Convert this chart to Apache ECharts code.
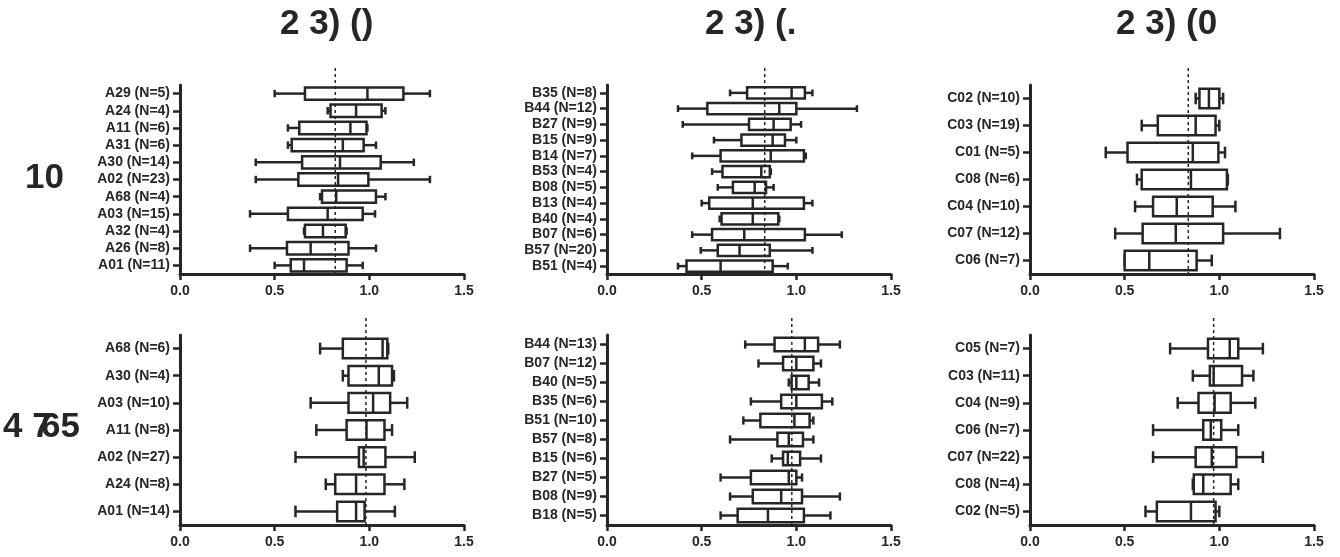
<!DOCTYPE html>
<html>
<head>
<meta charset="utf-8">
<script src="https://cdn.jsdelivr.net/npm/echarts@6/dist/echarts.min.js"></script>
<style>
  html, body { margin: 0; padding: 0; background: #fff; }
  #chart { width: 1340px; height: 557px; }
</style>
</head>
<body>
<div id="chart"></div>
<script>
// ==========================================
// DATA  (each box: [whisker low, Q1, median, Q3, whisker high])
// ==========================================
const panelTitles = ['2 3) ()', '2 3) (.', '2 3) (0'];
const rowLabels = ['10', '4 765'];
const xTicks = [0, 0.5, 1.0, 1.5];

const catsTopA = ['A29 (N=5)', 'A24 (N=4)', 'A11 (N=6)', 'A31 (N=6)', 'A30 (N=14)', 'A02 (N=23)',
  'A68 (N=4)', 'A03 (N=15)', 'A32 (N=4)', 'A26 (N=8)', 'A01 (N=11)'];
const boxTopA = [
  [0.50, 0.66, 0.99, 1.18, 1.32],
  [0.78, 0.795, 0.93, 1.065, 1.085],
  [0.57, 0.63, 0.90, 0.985, 0.99],
  [0.57, 0.59, 0.86, 0.97, 1.035],
  [0.40, 0.645, 0.845, 1.06, 1.235],
  [0.40, 0.625, 0.835, 0.995, 1.32],
  [0.74, 0.75, 0.825, 1.035, 1.085],
  [0.37, 0.57, 0.78, 0.965, 1.03],
  [0.655, 0.66, 0.755, 0.875, 0.88],
  [0.37, 0.565, 0.69, 0.89, 1.035],
  [0.50, 0.585, 0.655, 0.88, 0.965]
];

const catsTopB = ['B35 (N=8)', 'B44 (N=12)', 'B27 (N=9)', 'B15 (N=9)', 'B14 (N=7)', 'B53 (N=4)',
  'B08 (N=5)', 'B13 (N=4)', 'B40 (N=4)', 'B07 (N=6)', 'B57 (N=20)', 'B51 (N=4)'];
const boxTopB = [
  [0.65, 0.74, 0.975, 1.045, 1.085],
  [0.375, 0.53, 0.91, 1.0, 1.32],
  [0.40, 0.75, 0.88, 0.97, 1.025],
  [0.565, 0.71, 0.875, 0.94, 1.0],
  [0.45, 0.60, 0.865, 1.04, 1.05],
  [0.555, 0.61, 0.815, 0.86, 0.865],
  [0.585, 0.665, 0.78, 0.84, 0.88],
  [0.50, 0.54, 0.77, 1.04, 1.085],
  [0.595, 0.605, 0.77, 0.905, 0.91],
  [0.45, 0.555, 0.725, 1.045, 1.24],
  [0.495, 0.585, 0.70, 0.86, 1.085],
  [0.375, 0.42, 0.60, 0.875, 0.955]
];

const catsTopC = ['C02 (N=10)', 'C03 (N=19)', 'C01 (N=5)', 'C08 (N=6)', 'C04 (N=10)', 'C07 (N=12)', 'C06 (N=7)'];
const boxTopC = [
  [0.875, 0.895, 0.945, 1.0, 1.02],
  [0.59, 0.675, 0.875, 0.98, 1.0],
  [0.40, 0.515, 0.86, 0.995, 1.03],
  [0.565, 0.59, 0.85, 1.04, 1.045],
  [0.555, 0.65, 0.775, 0.965, 1.085],
  [0.45, 0.595, 0.77, 1.02, 1.32],
  [0.50, 0.50, 0.63, 0.88, 0.96]
];

const catsBotA = ['A68 (N=6)', 'A30 (N=4)', 'A03 (N=10)', 'A11 (N=8)', 'A02 (N=27)', 'A24 (N=8)', 'A01 (N=14)'];
const boxBotA = [
  [0.74, 0.86, 1.07, 1.095, 1.10],
  [0.86, 0.89, 1.05, 1.12, 1.13],
  [0.69, 0.89, 1.02, 1.11, 1.20],
  [0.72, 0.88, 0.985, 1.08, 1.12],
  [0.61, 0.945, 0.97, 1.085, 1.24],
  [0.77, 0.82, 0.93, 1.08, 1.185],
  [0.61, 0.83, 0.93, 0.975, 1.135]
];

const catsBotB = ['B44 (N=13)', 'B07 (N=12)', 'B40 (N=5)', 'B35 (N=6)', 'B51 (N=10)', 'B57 (N=8)',
  'B15 (N=6)', 'B27 (N=5)', 'B08 (N=9)', 'B18 (N=5)'];
const boxBotB = [
  [0.73, 0.885, 1.045, 1.115, 1.23],
  [0.80, 0.93, 1.0, 1.09, 1.13],
  [0.96, 0.975, 1.0, 1.065, 1.12],
  [0.76, 0.92, 1.0, 1.135, 1.19],
  [0.72, 0.81, 0.99, 1.07, 1.09],
  [0.65, 0.90, 0.96, 1.035, 1.09],
  [0.87, 0.93, 0.955, 1.02, 1.13],
  [0.60, 0.76, 0.96, 1.0, 1.03],
  [0.65, 0.77, 0.92, 1.03, 1.23],
  [0.60, 0.69, 0.85, 1.04, 1.18]
];

const catsBotC = ['C05 (N=7)', 'C03 (N=11)', 'C04 (N=9)', 'C06 (N=7)', 'C07 (N=22)', 'C08 (N=4)', 'C02 (N=5)'];
const boxBotC = [
  [0.74, 0.94, 1.055, 1.10, 1.23],
  [0.86, 0.95, 0.97, 1.12, 1.18],
  [0.78, 0.89, 0.975, 1.06, 1.19],
  [0.65, 0.915, 0.955, 1.01, 1.10],
  [0.65, 0.875, 0.96, 1.09, 1.23],
  [0.86, 0.865, 0.915, 1.06, 1.10],
  [0.61, 0.67, 0.85, 0.98, 1.0]
];

// dotted reference value per panel
const refLines = [0.82, 0.833, 0.836, 0.982, 0.976, 0.97];

// ==========================================
// LAYOUT
// ==========================================
const INK = '#262626';
const FONT = '"Liberation Sans", Arial, sans-serif';

const panels = [
  { cats: catsTopA, boxes: boxTopA, left: 180, top: 85 },
  { cats: catsTopB, boxes: boxTopB, left: 607, top: 85 },
  { cats: catsTopC, boxes: boxTopC, left: 1030, top: 85 },
  { cats: catsBotA, boxes: boxBotA, left: 180, top: 335 },
  { cats: catsBotB, boxes: boxBotB, left: 607, top: 335 },
  { cats: catsBotC, boxes: boxBotC, left: 1030, top: 335 }
];

function renderBox(params, api) {
  const yi = api.value(0);
  const pLo = api.coord([api.value(1), yi]);
  const pQ1 = api.coord([api.value(2), yi]);
  const pMd = api.coord([api.value(3), yi]);
  const pQ3 = api.coord([api.value(4), yi]);
  const pHi = api.coord([api.value(5), yi]);
  const band = api.size([0, 1])[1];
  const bh = band * 0.72;
  const ch = bh * 0.6;
  const y = pMd[1];
  const ls = { stroke: INK, lineWidth: 2.5, fill: null };
  return {
    type: 'group',
    children: [
      { type: 'line', shape: { x1: pLo[0], y1: y, x2: pQ1[0], y2: y }, style: ls },
      { type: 'line', shape: { x1: pQ3[0], y1: y, x2: pHi[0], y2: y }, style: ls },
      { type: 'line', shape: { x1: pLo[0], y1: y - ch / 2, x2: pLo[0], y2: y + ch / 2 }, style: ls },
      { type: 'line', shape: { x1: pHi[0], y1: y - ch / 2, x2: pHi[0], y2: y + ch / 2 }, style: ls },
      { type: 'rect', shape: { x: pQ1[0], y: y - bh / 2, width: pQ3[0] - pQ1[0], height: bh },
        style: { stroke: INK, lineWidth: 2.5, fill: '#fff' } },
      { type: 'line', shape: { x1: pMd[0], y1: y - bh / 2, x2: pMd[0], y2: y + bh / 2 }, style: ls }
    ]
  };
}

function renderRef(params, api) {
  const p = api.coord([api.value(0), 0]);
  const cs = params.coordSys;
  return {
    type: 'line',
    shape: { x1: p[0], y1: cs.y - 17, x2: p[0], y2: cs.y + cs.height },
    style: { stroke: INK, lineWidth: 1.5, lineDash: [3, 3], fill: null }
  };
}

const grids = [], xAxes = [], yAxes = [], series = [];
panels.forEach((p, i) => {
  grids.push({ left: p.left, top: p.top, width: 284, height: i < 3 ? 189 : 190 });
  xAxes.push({
    type: 'value', gridIndex: i, min: xTicks[0], max: xTicks[xTicks.length - 1], interval: 0.5,
    axisLine: { show: true, onZero: false, lineStyle: { color: INK, width: 3 } },
    axisTick: { show: true, length: 6, lineStyle: { color: INK, width: 2.5 } },
    splitLine: { show: false },
    axisLabel: { color: INK, fontFamily: FONT, fontWeight: 'bold', fontSize: 14, margin: 10,
      formatter: v => v.toFixed(1) }
  });
  yAxes.push({
    type: 'category', gridIndex: i, data: p.cats, inverse: true,
    axisLine: { show: true, lineStyle: { color: INK, width: 3 } },
    axisTick: { show: true, interval: 0, alignWithLabel: true, length: 7, lineStyle: { color: INK, width: 2.5 } },
    axisLabel: { interval: 0, color: INK, fontFamily: FONT, fontWeight: 'bold', fontSize: 14, margin: 10 }
  });
  series.push({
    type: 'custom', xAxisIndex: i, yAxisIndex: i, renderItem: renderBox, clip: false,
    encode: { x: [1, 2, 3, 4, 5], y: 0 },
    data: p.boxes.map((b, k) => [k].concat(b)), z: 2
  });
  series.push({
    type: 'custom', xAxisIndex: i, yAxisIndex: i, renderItem: renderRef, clip: false,
    encode: { x: 0, y: 1 }, data: [[refLines[i], 0]], z: 3
  });
});

const big = (text, x, y) => ({
  type: 'text', x: x, y: y,
  style: { text: text, fill: INK, font: 'bold 35px ' + FONT, verticalAlign: 'middle' }
});

const chart = echarts.init(document.getElementById('chart'), null, { renderer: 'canvas' });
chart.setOption({
  animation: false,
  backgroundColor: '#fff',
  grid: grids,
  xAxis: xAxes,
  yAxis: yAxes,
  series: series,
  graphic: [
    big(panelTitles[0], 280, 24),
    big(panelTitles[1], 705, 24),
    big(panelTitles[2], 1116, 24),
    big(rowLabels[0], 25, 178),
    big(rowLabels[1].slice(0, 3), 3, 427),
    big(rowLabels[1].slice(3), 41, 427)
  ]
});

window.addEventListener('resize', () => chart.resize());
</script>
</body>
</html>
